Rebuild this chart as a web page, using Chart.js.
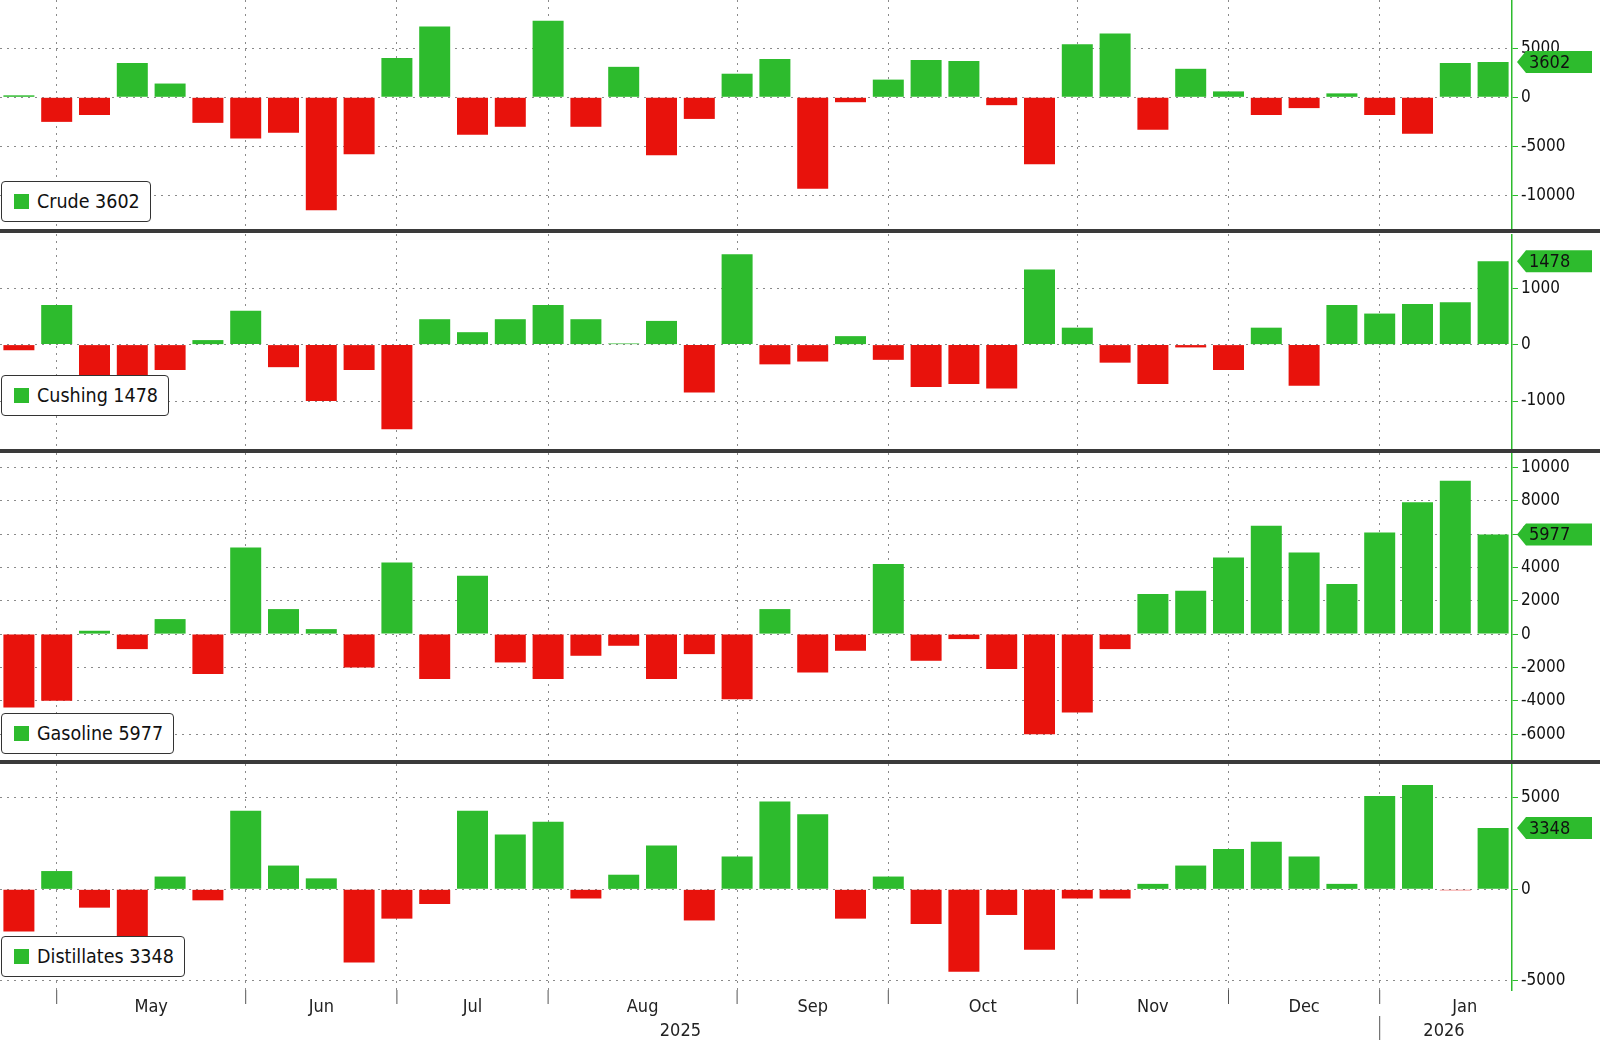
<!DOCTYPE html>
<html>
<head>
<meta charset="utf-8">
<script src="https://cdn.jsdelivr.net/npm/chart.js@4"></script>
<style>
  body { margin: 0; background: #fff; width: 1600px; height: 1041px; overflow: hidden; position: relative; font-family: "DejaVu Sans Condensed", "DejaVu Sans", sans-serif; }
  .pane { position: absolute; left: 0; }
  .sep { position: absolute; left: 0; width: 1600px; height: 4px; background: #3a3a3a; }
  .legend { position: absolute; left: 1px; background: #fff; border: 1.5px solid #333; border-radius: 4px; padding: 8px 10px 8px 12px; font-size: 19.5px; color: #111; white-space: nowrap; }
  .legend i { display: inline-block; width: 15px; height: 15px; background: #2dbb2d; margin-right: 8px; vertical-align: -1px; }
</style>
</head>
<body>
<div class="pane" style="top:0"><canvas id="c0"></canvas></div>
<div class="pane" style="top:234px"><canvas id="c1"></canvas></div>
<div class="pane" style="top:453px"><canvas id="c2"></canvas></div>
<div class="pane" style="top:764px"><canvas id="c3"></canvas></div>
<div class="sep" style="top:229px"></div>
<div class="sep" style="top:449px"></div>
<div class="sep" style="top:760px"></div>
<div class="legend" style="top:181px"><i></i>Crude 3602</div>
<div class="legend" style="top:375px"><i></i>Cushing 1478</div>
<div class="legend" style="top:713px"><i></i>Gasoline 5977</div>
<div class="legend" style="top:936px"><i></i>Distillates 3348</div>
<script>
"use strict";

var weeks = [];
for (var i = 0; i < 40; i++) weeks.push('W' + (i + 1));

var crude = [200, -2500, -1800, 3500, 1400, -2600, -4200, -3600, -11500, -5800,
    4000, 7200, -3800, -3000, 7800, -3000, 3100, -5900, -2200, 2400,
    3900, -9300, -500, 1800, 3800, 3700, -800, -6800, 5400, 6500,
    -3300, 2900, 600, -1800, -1100, 400, -1800, -3700, 3500, 3602];
var cushing = [-100, 700, -550, -550, -450, 80, 600, -400, -1000, -450,
    -1500, 450, 220, 450, 700, 450, 20, 420, -850, 1600,
    -350, -300, 150, -270, -750, -700, -780, 1330, 300, -320,
    -700, -50, -450, 300, -730, 700, 550, 720, 750, 1478];
var gasoline = [-4400, -4000, 200, -900, 900, -2400, 5200, 1500, 300, -2000,
    4300, -2700, 3500, -1700, -2700, -1300, -700, -2700, -1200, -3900,
    1500, -2300, -1000, 4200, -1600, -300, -2100, -6000, -4700, -900,
    2400, 2600, 4600, 6500, 4900, 3000, 6100, 7900, 9200, 5977];
var distillates = [-2300, 1000, -1000, -2600, 700, -600, 4300, 1300, 600, -4000,
    -1600, -800, 4300, 3000, 3700, -500, 800, 2400, -1700, 1800,
    4800, 4100, -1600, 700, -1900, -4500, -1400, -3300, -500, -500,
    300, 1300, 2200, 2600, 1800, 300, 5100, 5700, -50, 3348];

var monthStarts = [1, 6, 10, 14, 19, 23, 28, 32, 36];
var monthNames = ['May', 'Jun', 'Jul', 'Aug', 'Sep', 'Oct', 'Nov', 'Dec', 'Jan'];
var yearLabels = [{ text: '2025', at: 17.5 }, { text: '2026', at: 37.7 }];

var GREEN = '#2dbb2d', RED = '#e8120c', FONT = '"DejaVu Sans Condensed", "DejaVu Sans", sans-serif';

var tagPlugin = {
    id: 'tag',
    afterDraw: function (chart) {
        var v = chart.data.datasets[0].data[39];
        var y = chart.scales.y.getPixelForValue(v);
        var x = chart.chartArea.right + 5;
        var c = chart.ctx;
        c.save();
        c.fillStyle = GREEN;
        c.beginPath();
        c.moveTo(x, y);
        c.lineTo(x + 9, y - 11);
        c.lineTo(x + 75, y - 11);
        c.lineTo(x + 75, y + 11);
        c.lineTo(x + 9, y + 11);
        c.closePath();
        c.fill();
        c.fillStyle = '#111';
        c.font = '18px ' + FONT;
        c.textBaseline = 'middle';
        c.fillText(String(v), x + 12, y + 1);
        c.restore();
    }
};

var monthPlugin = {
    id: 'months',
    afterDraw: function (chart) {
        if (!chart.options.plugins.months.show) return;
        var c = chart.ctx, xs = chart.scales.x, bottom = chart.chartArea.bottom;
        c.save();
        c.strokeStyle = '#555';
        c.lineWidth = 1;
        c.font = '18px ' + FONT;
        c.fillStyle = '#222';
        c.textAlign = 'center';
        c.beginPath();
        monthStarts.forEach(function (m) {
            var px = xs.getPixelForValue(m);
            c.moveTo(px, bottom); c.lineTo(px, bottom + 14);
        });
        var px36 = xs.getPixelForValue(36);
        c.moveTo(px36, bottom + 26); c.lineTo(px36, bottom + 50);
        c.stroke();
        for (var k = 0; k < monthNames.length; k++) {
            var a = xs.getPixelForValue(monthStarts[k]);
            var b = k + 1 < monthStarts.length ? xs.getPixelForValue(monthStarts[k + 1]) : xs.getPixelForValue(40.5);
            c.fillText(monthNames[k], (a + b) / 2, bottom + 22);
        }
        yearLabels.forEach(function (yl) {
            c.fillText(yl.text, xs.getPixelForValue(yl.at), bottom + 46);
        });
        c.restore();
    }
};

function makeChart(id, values, h, min, max, step, bottomPad) {
    var cv = document.getElementById(id);
    cv.width = 1600; cv.height = h;
    return new Chart(cv.getContext('2d'), {
        type: 'bar',
        data: {
            labels: weeks,
            datasets: [{
                data: values,
                backgroundColor: values.map(function (v) { return v >= 0 ? GREEN : RED; }),
                barPercentage: 0.82,
                categoryPercentage: 1
            }]
        },
        options: {
            responsive: false,
            animation: false,
            layout: { padding: { left: 0, top: 0, right: 0, bottom: bottomPad } },
            plugins: { legend: { display: false }, tooltip: { enabled: false }, months: { show: bottomPad > 0 } },
            scales: {
                x: {
                    display: true,
                    afterFit: function (s) { s.height = 0; s.paddingLeft = 0; s.paddingRight = 0; },
                    ticks: { display: false },
                    border: { display: false, dash: [2, 5] },
                    grid: {
                        offset: false,
                        drawTicks: false,
                        color: function (ctx) { return monthStarts.indexOf(ctx.index) >= 0 ? '#8a8a8a' : 'rgba(0,0,0,0)'; }
                    }
                },
                y: {
                    position: 'right',
                    min: min, max: max,
                    afterFit: function (s) { s.width = 88; s.paddingTop = 0; s.paddingBottom = 0; },
                    afterBuildTicks: function (s) {
                        var t = [];
                        for (var v = Math.ceil(min / step) * step; v <= max; v += step) t.push({ value: v });
                        s.ticks = t;
                    },
                    border: { color: GREEN, width: 1.5, dash: [2, 5] },
                    grid: { color: '#8a8a8a', tickLength: 6, tickColor: GREEN, drawTicks: true },
                    ticks: {
                        color: '#111', padding: 3,
                        font: { size: 17, family: FONT },
                        callback: function (v) { return v; }
                    }
                }
            }
        },
        plugins: [tagPlugin, monthPlugin]
    });
}

makeChart('c0', crude, 229, -13400, 9900, 5000, 0);
makeChart('c1', cushing, 215, -1850, 1960, 1000, 0);
makeChart('c2', gasoline, 307, -7550, 10860, 2000, 0);
makeChart('c3', distillates, 277, -5500, 6850, 5000, 51);
</script>
</body>
</html>
